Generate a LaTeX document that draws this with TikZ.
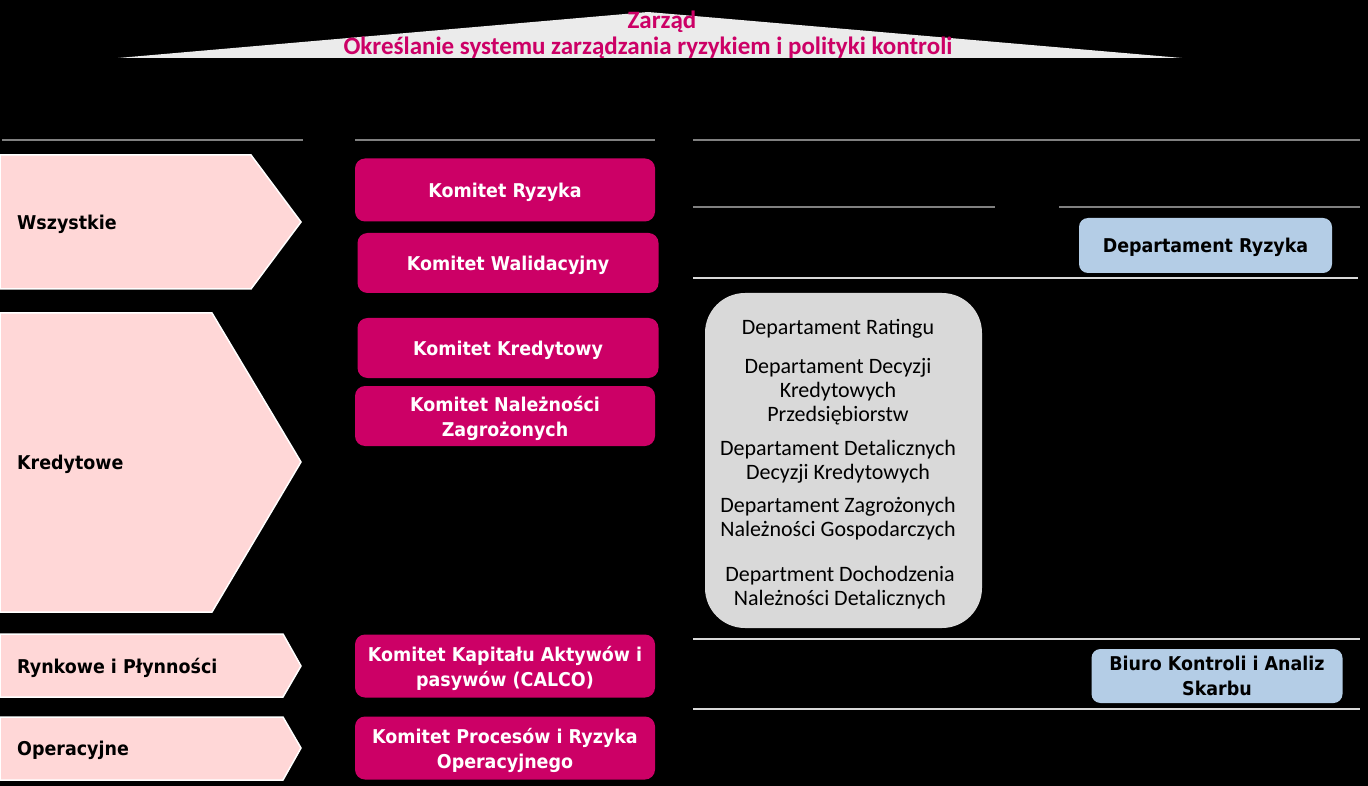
\documentclass[tikz,border=0pt]{standalone}
\usepackage{fontspec}
\setmainfont{DejaVu Sans}[FakeStretch=0.92]
\newfontfamily\calfont{Carlito}
\definecolor{mag}{HTML}{CC0066}
\definecolor{pinkfill}{HTML}{FFD7D7}
\definecolor{lblue}{HTML}{B4CDE6}
\definecolor{lgray}{HTML}{D9D9D9}
\definecolor{tgray}{HTML}{EBEBEB}
\definecolor{hline}{HTML}{808080}
\definecolor{wline}{HTML}{D9D9D9}
\tikzset{
  magbox/.style={fill=mag, rounded corners=10pt, text=white, font=\bfseries\fontsize{19}{25}\selectfont, align=center, inner sep=0pt, text depth=0pt},
  bluebox/.style={fill=lblue, rounded corners=9pt, text=black, font=\bfseries\fontsize{19}{25}\selectfont, align=center, inner sep=0pt, text depth=0pt},
  pinkarrow/.style={fill=pinkfill, draw=white, line width=1.5pt},
  catlabel/.style={anchor=west, text=black, font=\bfseries\fontsize{19}{24}\selectfont, inner sep=0pt},
  deptext/.style={text=black, font=\calfont\fontsize{22}{24}\selectfont, align=center, inner sep=0pt},
  titletext/.style={text=mag, font=\calfont\bfseries\fontsize{25}{26}\selectfont, inner sep=0pt},
  darkline/.style={draw=hline, line width=2pt},
  lightline/.style={draw=wline, line width=2pt},
}
\begin{document}
\begin{tikzpicture}[x=1pt,y=-1pt]
\fill[black] (0,0) rectangle (1368,786);
\useasboundingbox (0,0) rectangle (1368,786);

% title triangle
\fill[tgray] (118,58) -- (648,12) -- (1182,58) -- cycle;
\node[titletext] (zarzad) at (662,22) {Zarząd};
\node[titletext] (okr) at (648,48) {Określanie systemu zarządzania ryzykiem i polityki kontroli};

% header lines
\draw[darkline] (2,140) -- (303,140);
\draw[darkline] (355,140) -- (655,140);
\draw[darkline] (693,140) -- (1360,140);
\draw[darkline] (693,207) -- (995,207);
\draw[darkline] (1059,207) -- (1360,207);
\draw[lightline] (693,278) -- (1358,278);
\draw[lightline] (693,639) -- (1360,639);
\draw[lightline] (693,709) -- (1360,709);

% pink arrows
\draw[pinkarrow] (0,155) -- (251,155) -- (301,222) -- (251,289) -- (0,289) -- cycle;
\draw[pinkarrow] (0,313) -- (212,313) -- (301,462) -- (212,612) -- (0,612) -- cycle;
\draw[pinkarrow] (0,634) -- (283,634) -- (301,666) -- (283,697) -- (0,697) -- cycle;
\draw[pinkarrow] (0,717) -- (283,717) -- (301,748) -- (283,780) -- (0,780) -- cycle;
\node[catlabel] (c1) at (17,224) {Wszystkie};
\node[catlabel] (c2) at (17,464) {Kredytowe};
\node[catlabel] (c3) at (17,668) {Rynkowe i Płynności};
\node[catlabel] (c4) at (17,750) {Operacyjne};

% magenta committee boxes
\node[magbox, minimum width=300pt, minimum height=63pt] (k1) at (505,190) {Komitet Ryzyka};
\node[magbox, minimum width=301pt, minimum height=60pt] (k2) at (508,263) {Komitet Walidacyjny};
\node[magbox, minimum width=301pt, minimum height=60pt] (k3) at (508,348) {Komitet Kredytowy};
\node[magbox, minimum width=300pt, minimum height=60pt] (k4) at (505,416) {Komitet Należności\\Zagrożonych};
\node[magbox, minimum width=300pt, minimum height=63pt] (k5) at (505,666) {Komitet Kapitału Aktywów i\\pasywów (CALCO)};
\node[magbox, minimum width=300pt, minimum height=63pt] (k6) at (505,748) {Komitet Procesów i Ryzyka\\Operacyjnego};

% gray department box
\node[fill=lgray, rounded corners=40pt, minimum width=277pt, minimum height=335pt, inner sep=0pt] (gbox) at (843.5,460.5) {};
\node[deptext] (d1) at (838,329) {Departament Ratingu};
\node[deptext] (d2) at (838,392) {Departament Decyzji\\Kredytowych\\Przedsiębiorstw};
\node[deptext] (d3) at (838,461.5) {Departament Detalicznych\\Decyzji Kredytowych};
\node[deptext] (d4) at (838,518.5) {Departament Zagrożonych\\Należności Gospodarczych};
\node[deptext] (d5) at (840,587.5) {Department Dochodzenia\\Należności Detalicznych};

% blue boxes
\node[bluebox, minimum width=253pt, minimum height=55pt] (b1) at (1205.5,245.5) {Departament Ryzyka};
\node[bluebox, minimum width=251pt, minimum height=54pt] (b2) at (1217,676) {Biuro Kontroli i Analiz\\Skarbu};
\end{tikzpicture}
\end{document}
